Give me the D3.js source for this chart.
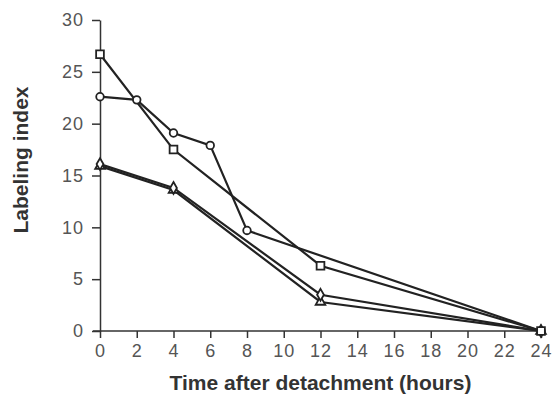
<!DOCTYPE html>
<html>
<head>
    <script src="https://d3js.org/d3.v7.min.js"></script>
    <style>
        body { margin: 0; background: #fff; }
        .tick text { font-family: "Liberation Sans", Arial, sans-serif; font-size: 18px; fill: #555; letter-spacing: 1px; }
        .axis-title { font-family: "Liberation Sans", Arial, sans-serif; font-weight: bold; font-size: 21px; fill: #333; }
    </style>
</head>
<body>
    <svg id="chart" width="559" height="394"></svg>
    <script>
        // hours after detachment
        var xTicks = [0, 2, 4, 6, 8, 10, 12, 14, 16, 18, 20, 22, 24];
        var yTicks = [0, 5, 10, 15, 20, 25, 30];

        // each series
        var squareHours = [0, 4, 12, 24];
        var squareIndex = [26.7, 17.5, 6.3, 0];

        var circleHours = [0, 2, 4, 6, 8, 24];
        var circleIndex = [22.6, 22.3, 19.1, 17.9, 9.7, 0];

        var diamondHours = [0, 4, 12, 24];
        var diamondIndex = [16.1, 13.8, 3.5, 0];

        var triangleHours = [0, 4, 12, 24];
        var triangleIndex = [15.9, 13.6, 2.8, 0];

        var series = [
            { hours: triangleHours, index: triangleIndex, symbol: d3.symbolTriangle, size: 40 },
            { hours: diamondHours, index: diamondIndex, symbol: d3.symbolDiamond, size: 40 },
            { hours: circleHours, index: circleIndex, symbol: d3.symbolCircle, size: 45 },
            { hours: squareHours, index: squareIndex, symbol: d3.symbolSquare, size: 60 }
        ];

        var margin = { top: 20, right: 18, bottom: 63, left: 100 },
            width = 559 - margin.left - margin.right,
            height = 394 - margin.top - margin.bottom;

        var svg = d3.select("#chart")
            .append("g")
            .attr("transform", "translate(" + margin.left + "," + margin.top + ")");

        var x = d3.scaleLinear().domain([0, 24]).range([0, width]);
        var y = d3.scaleLinear().domain([0, 30]).range([height, 0]);

        // x axis
        var gx = svg.append("g")
            .attr("transform", "translate(0," + height + ")")
            .call(d3.axisBottom(x).tickValues(xTicks).tickSize(7).tickPadding(6).tickSizeOuter(0));
        gx.select(".domain").remove();
        gx.append("line").attr("x1", -7).attr("x2", width + 4).attr("stroke", "#333").attr("stroke-width", 1.5);
        gx.selectAll(".tick line").attr("stroke", "#333").attr("stroke-width", 1.5);

        // y axis
        var gy = svg.append("g")
            .call(d3.axisLeft(y).tickValues(yTicks).tickSize(8).tickPadding(8).tickSizeOuter(0));
        gy.select(".domain").attr("stroke", "#333").attr("stroke-width", 1.5);
        gy.selectAll(".tick line").attr("stroke", "#333").attr("stroke-width", 1.5);

        var line = d3.line().x(d => x(d[0])).y(d => y(d[1]));

        series.forEach(function (s) {
            var pts = s.hours.map((h, i) => [h, s.index[i]]);
            svg.append("path")
                .datum(pts)
                .attr("d", line)
                .attr("fill", "none")
                .attr("stroke", "#222")
                .attr("stroke-width", 2.2);
        });

        series.forEach(function (s) {
            var pts = s.hours.map((h, i) => [h, s.index[i]]);
            svg.append("g")
                .selectAll("path")
                .data(pts)
                .enter()
                .append("path")
                .attr("transform", d => "translate(" + x(d[0]) + "," + y(d[1]) + ")")
                .attr("d", d3.symbol().type(s.symbol).size(s.size))
                .attr("fill", "#fff")
                .attr("stroke", "#222")
                .attr("stroke-width", 1.8);
        });

        svg.append("text")
            .attr("class", "axis-title")
            .attr("x", width / 2)
            .attr("y", height + 59)
            .attr("text-anchor", "middle")
            .text("Time after detachment (hours)");

        svg.append("text")
            .attr("class", "axis-title")
            .attr("transform", "rotate(-90)")
            .attr("x", -140)
            .attr("y", -72)
            .attr("text-anchor", "middle")
            .text("Labeling index");
    </script>
</body>
</html>
